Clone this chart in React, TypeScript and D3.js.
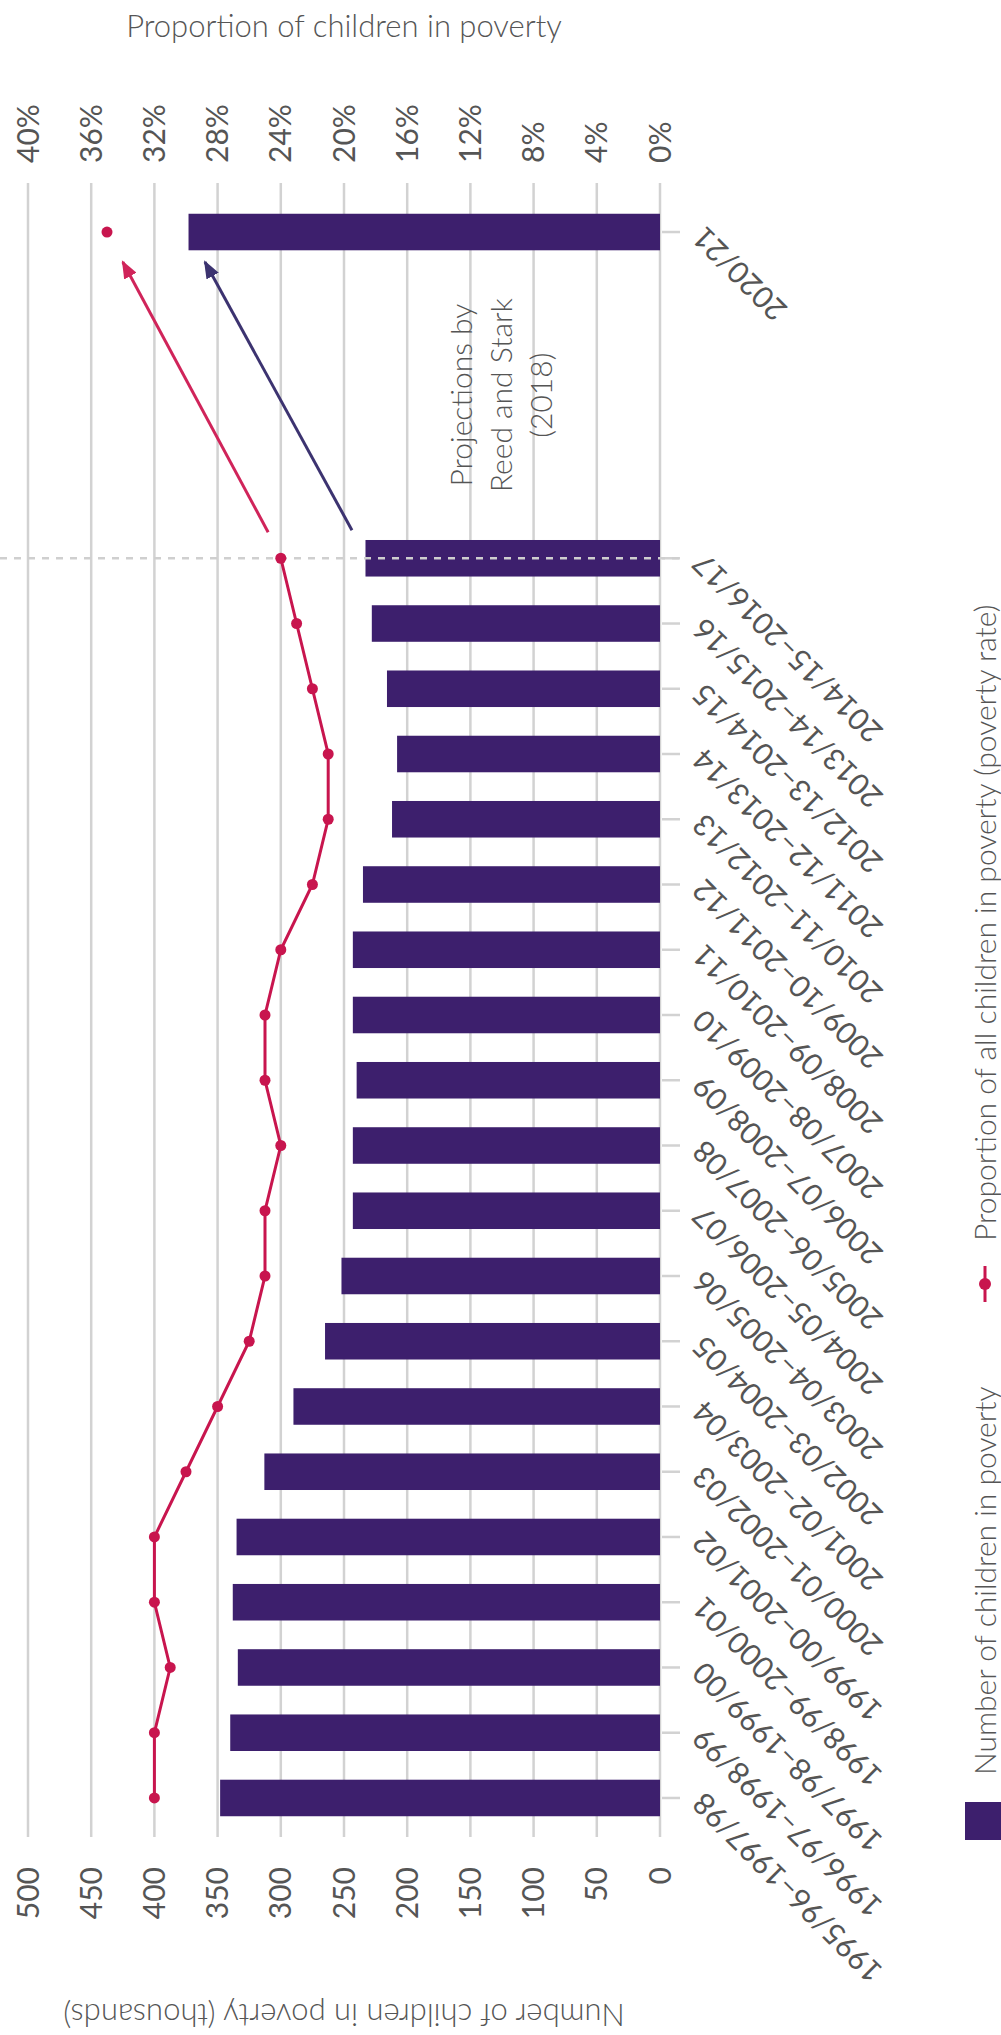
import React from "react";
import * as d3 from "d3";

// three-year periods, then a gap before the projected year
const periods = [
  "1995/96–1997/98",
  "1996/97–1998/99",
  "1997/98–1999/00",
  "1998/99–2000/01",
  "1999/00–2001/02",
  "2000/01–2002/03",
  "2001/02–2003/04",
  "2002/03–2004/05",
  "2003/04–2005/06",
  "2004/05–2006/07",
  "2005/06–2007/08",
  "2006/07–2008/09",
  "2007/08–2009/10",
  "2008/09–2010/11",
  "2009/10–2011/12",
  "2010/11–2012/13",
  "2011/12–2013/14",
  "2012/13–2014/15",
  "2013/14–2015/16",
  "2014/15–2016/17",
  "",
  "",
  "",
  "",
  "2020/21",
];

// thousands
const childrenInPoverty = [
  348, 340, 334, 338, 335, 313, 290, 265, 252, 243, 243, 240, 243, 243, 235,
  212, 208, 216, 228, 233, null, null, null, null, 373,
];

// per cent
const povertyRate = [
  32, 32, 31, 32, 32, 30, 28, 26, 25, 25, 24, 25, 25, 24, 22, 21, 21, 22, 23,
  24, null, null, null, null, 35,
];

const countTicks = d3.range(0, 501, 50);
const rateTicks = d3.range(0, 41, 4);

const lastObserved = 19;
const projectionNote = ["Projections by", "Reed and Stark", "(2018)"];

// arrow ends given as slot position and value
const projectionArrows = [
  { axis: "rate", from: [19.4, 24.8], to: [23.54, 34.0], color: "#d0245a", id: "arRed" },
  { axis: "count", from: [19.43, 243.7], to: [23.54, 360], color: "#3c3370", id: "arBlue" },
];

const BAR = "#3d1f6d";
const RED = "#c8154e";
const GRID = "#d2d2d2";
const TXT = "#555";
const FONT = "Lato, 'Open Sans', sans-serif";

const W = 1001;
const H = 2035;

export default function App() {
  // drawn as a normal column chart (u across, v down), then turned a quarter left
  const x = d3
    .scaleBand<number>()
    .domain(d3.range(periods.length))
    .range([204.4, 1835.6])
    .paddingInner(0.44)
    .paddingOuter(0.22);
  const cx = (i: number) => (x(i) as number) + x.bandwidth() / 2;
  const slot = (s: number) => cx(0) + s * x.step();

  const yCount = d3.scaleLinear().domain([0, 500]).range([660, 28]);
  const yRate = d3.scaleLinear().domain([0, 40]).range([660, 28]);

  const u0 = 198;
  const u1 = 1852;

  const rateLine = d3
    .line<number | null>()
    .defined((d, i) => d != null && i <= lastObserved)
    .x((d, i) => cx(i))
    .y((d) => yRate(d as number));

  return (
    <svg
      width={W}
      height={H}
      style={{ position: "absolute", left: 0, top: 0, background: "#fff" }}
      fontFamily={FONT}
      fontWeight={300}
    >
      <defs>
        {projectionArrows.map((a) => (
          <marker
            key={a.id}
            id={a.id}
            markerUnits="userSpaceOnUse"
            markerWidth={18}
            markerHeight={14}
            refX={16}
            refY={7}
            orient="auto"
          >
            <path d="M0,0 L18,7 L0,14 z" fill={a.color} />
          </marker>
        ))}
      </defs>
      <g transform={`translate(0,${H}) rotate(-90)`}>
        {/* grid */}
        {countTicks.map((t) => (
          <line
            key={"g" + t}
            x1={u0}
            x2={u1}
            y1={yCount(t)}
            y2={yCount(t)}
            stroke={GRID}
            strokeWidth={2.5}
          />
        ))}

        {/* bars */}
        {childrenInPoverty.map((v, i) =>
          v == null ? null : (
            <rect
              key={"b" + i}
              x={x(i)}
              y={yCount(v)}
              width={x.bandwidth()}
              height={yCount(0) - yCount(v)}
              fill={BAR}
            />
          )
        )}

        {/* category ticks + labels */}
        {periods.map((p, i) =>
          p === "" ? null : (
            <g key={"c" + i}>
              <line x1={cx(i)} x2={cx(i)} y1={662} y2={680} stroke={GRID} strokeWidth={2.5} />
              <text
                transform={`translate(${cx(i)},${698}) rotate(-45)`}
                textAnchor="end"
                dy="0.35em"
                fontSize={30}
                fontWeight={400}
                fill={TXT}
              >
                {p}
              </text>
            </g>
          )
        )}

        {/* last observed period marker */}
        <line
          x1={cx(lastObserved)}
          x2={cx(lastObserved)}
          y1={0}
          y2={680}
          stroke="#cfcfcf"
          strokeWidth={2.5}
          strokeDasharray="7 7"
        />

        {/* poverty rate */}
        <path d={rateLine(povertyRate) || ""} fill="none" stroke={RED} strokeWidth={3} />
        {povertyRate.map((v, i) =>
          v == null ? null : (
            <circle key={"r" + i} cx={cx(i)} cy={yRate(v)} r={5.5} fill={RED} />
          )
        )}

        {/* projection arrows */}
        {projectionArrows.map((a) => {
          const sc = a.axis === "rate" ? yRate : yCount;
          return (
            <line
              key={a.id}
              x1={slot(a.from[0])}
              y1={sc(a.from[1])}
              x2={slot(a.to[0])}
              y2={sc(a.to[1])}
              stroke={a.color}
              strokeWidth={3}
              markerEnd={`url(#${a.id})`}
            />
          );
        })}

        {projectionNote.map((line, j) => (
          <text
            key={"n" + j}
            x={slot((lastObserved + periods.length - 1) / 2)}
            y={461 + j * 40}
            dy="0.35em"
            textAnchor="middle"
            fontSize={30}
            fill={TXT}
          >
            {line}
          </text>
        ))}

        {/* count axis labels */}
        {countTicks.map((t) => (
          <text
            key={"lc" + t}
            x={168}
            y={yCount(t)}
            dy="0.35em"
            textAnchor="end"
            fontSize={30}
            fontWeight={400}
            fill={TXT}
          >
            {t}
          </text>
        ))}
        <text
          transform={`translate(31,${(yCount(0) + yCount(500)) / 2}) rotate(-90)`}
          textAnchor="middle"
          fontSize={31}
          fill={TXT}
        >
          Number of children in poverty (thousands)
        </text>

        {/* rate axis labels */}
        {rateTicks.map((t) => (
          <text
            key={"lr" + t}
            x={1872}
            y={yRate(t)}
            dy="0.35em"
            textAnchor="start"
            fontSize={30}
            fontWeight={400}
            fill={TXT}
          >
            {t}%
          </text>
        ))}
        <text
          transform={`translate(1998,${(yRate(0) + yRate(40)) / 2}) rotate(90)`}
          textAnchor="middle"
          fontSize={31}
          fill={TXT}
        >
          Proportion of children in poverty
        </text>

        {/* legend */}
        <rect x={195} y={965} width={38} height={38} fill={BAR} />
        <text x={260} y={985} dy="0.35em" fontSize={30} fill={TXT}>
          Number of children in poverty
        </text>
        <line x1={733} x2={769} y1={985} y2={985} stroke={RED} strokeWidth={3} />
        <circle cx={751} cy={985} r={6} fill={RED} />
        <text x={794} y={985} dy="0.35em" fontSize={30} fill={TXT}>
          Proportion of all children in poverty (poverty rate)
        </text>
      </g>
    </svg>
  );
}
